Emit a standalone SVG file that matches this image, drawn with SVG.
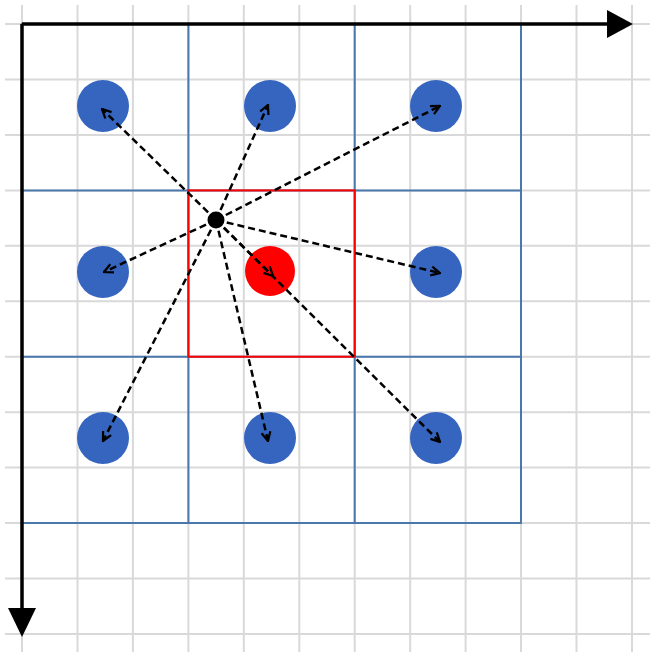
<svg xmlns="http://www.w3.org/2000/svg" width="654" height="657" viewBox="0 0 654 657">
<style>
.g{stroke:#d9d9d9;stroke-width:2;fill:none}
.b{stroke:#4a78ad;stroke-width:2;fill:none}
.ax{stroke:#000;stroke-width:3.5;fill:none}
.c{fill:#3565be}
.d{stroke:#000;stroke-width:2.5;stroke-dasharray:7 4;fill:none;marker-end:url(#ah)}
</style>
<defs>
<marker id="ah" viewBox="0 0 10 10" refX="9" refY="5" markerWidth="4.5" markerHeight="4.5" orient="auto" markerUnits="strokeWidth">
<path d="M1,1 L9,5 L1,9" fill="none" stroke="#000" stroke-width="2"/>
</marker>
</defs>
<rect width="654" height="657" fill="#fff"/>
<g id="grid">
<path class="g" d="M22,5V652M77.5,5V652M132.9,5V652M188.4,5V652M243.8,5V652M299.3,5V652M354.7,5V652M410.2,5V652M465.6,5V652M521,5V652M576.5,5V652M632,5V652"/>
<path class="g" d="M5,24H650M5,79.5H650M5,134.9H650M5,190.4H650M5,245.8H650M5,301.3H650M5,356.7H650M5,412.2H650M5,467.6H650M5,523H650M5,578.5H650M5,634H650"/>
</g>
<g id="blue-grid">
<path class="b" d="M22,24H521V523H22ZM188.4,24V523M354.7,24V523M22,190.4H521M22,356.7H521"/>
</g>
<g id="red-square">
<rect x="188.4" y="190.4" width="166.3" height="166.3" fill="none" stroke="#ff0000" stroke-width="2"/>
</g>
<g id="axes">
<path class="ax" d="M22,24H610M22,24V610"/>
<path d="M607,10L633,24L607,38Z" fill="#000"/>
<path d="M8,608L36,608L22,637Z" fill="#000"/>
</g>
<g id="n1"><circle class="c" cx="103" cy="106" r="26"/></g>
<g id="n2"><circle class="c" cx="270" cy="106" r="26"/></g>
<g id="n3"><circle class="c" cx="436" cy="106" r="26"/></g>
<g id="n4"><circle class="c" cx="103" cy="272" r="26"/></g>
<g id="n5"><circle cx="270" cy="271" r="25" fill="#ff0000"/></g>
<g id="n6"><circle class="c" cx="436" cy="272" r="26"/></g>
<g id="n7"><circle class="c" cx="103" cy="438" r="26"/></g>
<g id="n8"><circle class="c" cx="270" cy="438" r="26"/></g>
<g id="n9"><circle class="c" cx="436" cy="438" r="26"/></g>
<g id="center"><circle cx="216" cy="220" r="8.5" fill="#000"/></g>
<g id="connectors">
<path class="d" d="M216,220L102,109"/>
<path class="d" d="M216,220L268,105"/>
<path class="d" d="M216,220L440,106"/>
<path class="d" d="M216,220L104,272"/>
<path class="d" d="M216,220L273,276"/>
<path class="d" d="M216,220L440,273"/>
<path class="d" d="M216,220L103,441"/>
<path class="d" d="M216,220L268,441"/>
<path class="d" d="M216,220L440,442"/>
</g>
</svg>
